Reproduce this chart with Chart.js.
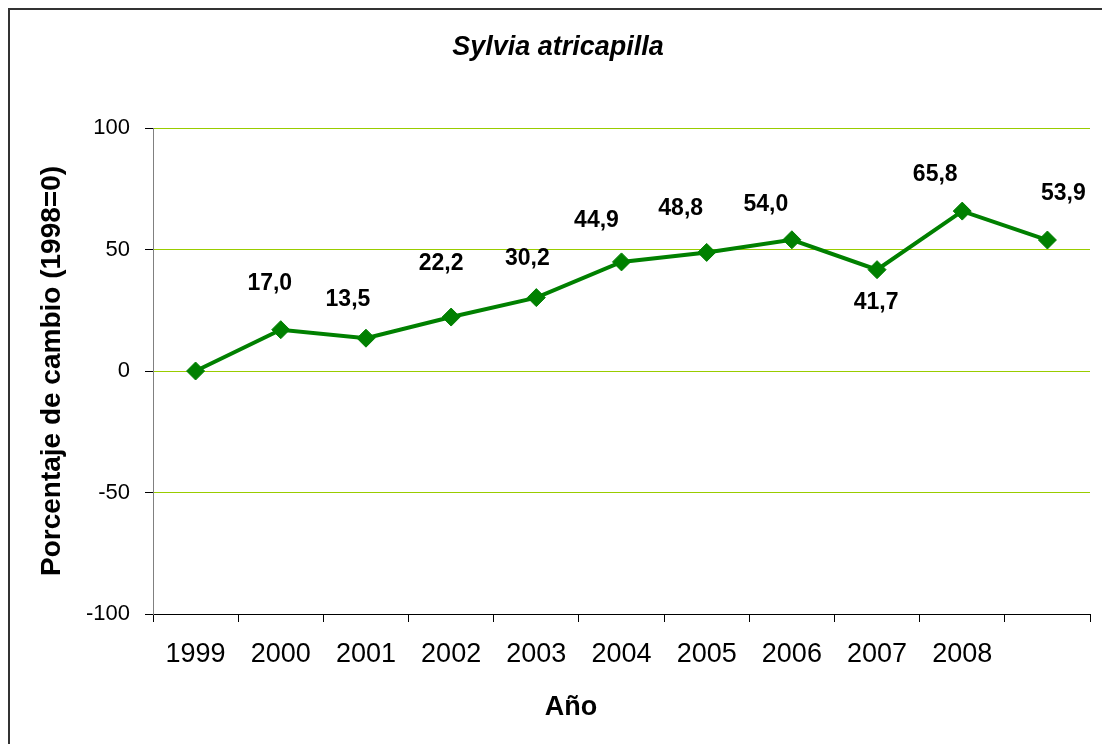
<!DOCTYPE html>
<html>
<head>
<meta charset="utf-8">
<script src="https://cdn.jsdelivr.net/npm/chart.js@4.4.0/dist/chart.umd.min.js"></script>
<style>
  html, body { margin: 0; padding: 0; background: #fff; }
  #wrap { width: 1102px; height: 744px; }
</style>
</head>
<body>
<div id="wrap"><canvas id="chart" width="1102" height="744"></canvas></div>
<script>
// data
const years = ['1999', '2000', '2001', '2002', '2003', '2004', '2005', '2006', '2007', '2008', ''];
const change = [0, 17.0, 13.5, 22.2, 30.2, 44.9, 48.8, 54.0, 41.7, 65.8, 53.9];
const shownLabels = [null, '17,0', '13,5', '22,2', '30,2', '44,9', '48,8', '54,0', '41,7', '65,8', '53,9'];
const yTicks = [-100, -50, 0, 50, 100];

const FONT = '"Liberation Sans", Arial, sans-serif';

// label placement relative to each point (pixels)
const labelShift = [
    [0, 0], [-11, -46], [-18, -39], [-10, -53], [-9, -39], [-25, -41],
    [-26, -44], [-26, -35], [-1, 33], [-27, -36], [16, -46]
];

const frame = {
    id: 'frame',
    afterDraw(chart) {
        const ctx = chart.ctx;
        ctx.save();
        ctx.strokeStyle = '#333';
        ctx.lineWidth = 2;
        ctx.beginPath();
        ctx.moveTo(9, 760);
        ctx.lineTo(9, 9);
        ctx.lineTo(1110, 9);
        ctx.stroke();
        // x axis title, off-centre like the original
        ctx.font = 'bold 27px ' + FONT;
        ctx.fillStyle = '#000';
        ctx.textAlign = 'center';
        ctx.textBaseline = 'middle';
        ctx.fillText('Año', 571, 708);
        ctx.restore();
    }
};

const valueLabels = {
    id: 'valueLabels',
    afterDatasetsDraw(chart) {
        const ctx = chart.ctx;
        const meta = chart.getDatasetMeta(0);
        ctx.save();
        ctx.font = 'bold 23px ' + FONT;
        ctx.fillStyle = '#000';
        ctx.textAlign = 'center';
        ctx.textBaseline = 'middle';
        meta.data.forEach(function(pt, i) {
            if (!shownLabels[i]) return;
            ctx.fillText(shownLabels[i], pt.x + labelShift[i][0], pt.y + labelShift[i][1]);
        });
        ctx.restore();
    }
};

const ctx = document.getElementById('chart').getContext('2d');
new Chart(ctx, {
    type: 'line',
    data: {
        labels: years,
        datasets: [{
            data: change,
            borderColor: '#008000',
            backgroundColor: '#008000',
            borderWidth: 4,
            pointStyle: 'rectRot',
            pointRadius: 9,
            pointBorderWidth: 1,
            pointBackgroundColor: '#008000',
            pointBorderColor: '#008000',
            fill: false,
            tension: 0
        }]
    },
    options: {
        responsive: false,
        animation: false,
        layout: { padding: { top: 0, right: 12, bottom: 0, left: 26 } },
        plugins: {
            legend: { display: false },
            tooltip: { enabled: false },
            title: {
                display: true,
                text: 'Sylvia atricapilla',
                color: '#000',
                font: { family: FONT, size: 27, style: 'italic', weight: 'bold' },
                padding: { top: 31, bottom: 64.6 }
            }
        },
        scales: {
            x: {
                offset: true,
                grid: {
                    display: true,
                    offset: true,
                    drawOnChartArea: false,
                    drawTicks: true,
                    tickLength: 8,
                    tickColor: '#000'
                },
                border: { display: true, color: '#000', width: 1 },
                ticks: {
                    color: '#000',
                    font: { family: FONT, size: 27 },
                    padding: 16,
                    maxRotation: 0,
                    autoSkip: false
                },
                title: { display: false },
                afterFit(scale) { scale.height = 130; }
            },
            y: {
                min: -100,
                max: 100,
                afterBuildTicks(scale) {
                    scale.ticks = yTicks.map(v => ({ value: v }));
                },
                grid: {
                    color: '#99CC00',
                    lineWidth: 1,
                    drawTicks: true,
                    tickLength: 8,
                    tickColor: '#000'
                },
                border: { display: true, color: '#808080', width: 1 },
                ticks: {
                    color: '#000',
                    font: { family: FONT, size: 22 },
                    padding: 15
                },
                title: {
                    display: true,
                    text: 'Porcentaje de cambio (1998=0)',
                    color: '#000',
                    font: { family: FONT, size: 28, weight: 'bold' },
                    padding: { top: 9, bottom: 0 }
                },
                afterFit(scale) { scale.width = 127; }
            }
        }
    },
    plugins: [frame, valueLabels]
});
</script>
</body>
</html>
